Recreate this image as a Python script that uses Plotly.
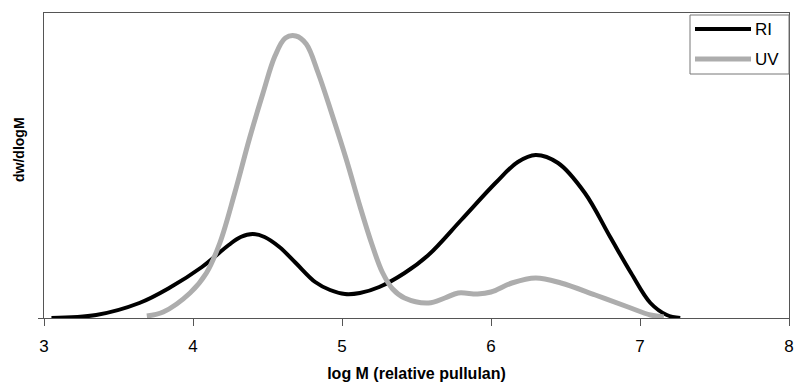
import plotly.graph_objects as go

# RI (black) curve: log M vs dw/dlogM (arbitrary units)
ri_x = [3.05, 3.35, 3.64, 3.84, 4.06, 4.24, 4.32, 4.40, 4.48, 4.58, 4.69, 4.82, 4.92, 5.02, 5.12, 5.25, 5.42, 5.58, 5.80, 6.03, 6.18, 6.30, 6.45, 6.63, 6.80, 6.94, 7.07, 7.18, 7.27]
ri_y = [0, 3, 15, 30, 51, 73, 81, 84, 81, 71, 55, 36, 28, 24, 25, 31, 45, 63, 98, 135, 156, 163, 155, 125, 81, 45, 15, 3, 0]

# UV (gray) curve
uv_x = [3.69, 3.80, 3.98, 4.09, 4.18, 4.28, 4.38, 4.47, 4.55, 4.62, 4.69, 4.76, 4.84, 4.93, 5.03, 5.12, 5.20, 5.27, 5.34, 5.42, 5.58, 5.69, 5.78, 5.91, 6.00, 6.14, 6.30, 6.47, 6.70, 6.92, 7.07, 7.16]
uv_y = [2, 6, 25, 45, 75, 125, 180, 225, 262, 280, 282, 274, 245, 205, 158, 112, 74, 46, 29, 20, 15, 20, 25, 24, 26, 35, 40, 35, 23, 11, 3, 1]

x_ticks = [3, 4, 5, 6, 7, 8]
series_names = ["RI", "UV"]
series_colors = ["black", "#adadad"]
series_widths = [4, 5]

W, H = 794, 387
ML, MR, MT, MB = 44, 5, 13, 69
PW, PH = W - ML - MR, H - MT - MB


def px_x(px):
    return (px - ML) / PW


def px_y(py):
    return 1 - (py - MT) / PH


fig = go.Figure()
for name, xs, ys, c, w in zip(series_names, [ri_x, uv_x], [ri_y, uv_y], series_colors, series_widths):
    fig.add_trace(go.Scatter(x=xs, y=ys, mode="lines", name=name, showlegend=False,
                             line=dict(color=c, width=w, shape="spline", smoothing=1.0)))

# custom legend box (matches reference's legend geometry)
shapes = [dict(type="rect", xref="paper", yref="paper",
               x0=px_x(690), x1=px_x(789), y0=px_y(74), y1=px_y(15),
               line=dict(color="#777", width=1), fillcolor="white", layer="above")]
annotations = []
for i, (name, c, w) in enumerate(zip(series_names, series_colors, series_widths)):
    yy = 29 + i * 30
    shapes.append(dict(type="line", xref="paper", yref="paper",
                       x0=px_x(695), x1=px_x(751), y0=px_y(yy), y1=px_y(yy),
                       line=dict(color=c, width=w), layer="above"))
    annotations.append(dict(xref="paper", yref="paper", x=px_x(753), y=px_y(yy),
                            xanchor="left", yanchor="middle", text=name, showarrow=False,
                            font=dict(size=17, color="black")))

# y-axis title placed as in the reference (slightly above centre)
annotations.append(dict(xref="paper", yref="paper", x=px_x(19), y=px_y(150),
                        xanchor="center", yanchor="middle", textangle=-90,
                        text="<b>dw/dlogM</b>", showarrow=False,
                        font=dict(size=14, color="black")))

fig.update_layout(
    width=W, height=H,
    margin=dict(l=ML, r=MR, t=MT, b=MB, autoexpand=False),
    paper_bgcolor="white", plot_bgcolor="white",
    font=dict(family="Liberation Sans, Arial", color="black", size=17),
    showlegend=False,
    shapes=shapes, annotations=annotations,
)
fig.update_xaxes(range=[3, 8], tickvals=x_ticks, ticktext=[str(t) for t in x_ticks],
                 showgrid=False, zeroline=False, showline=True, linecolor="#555", linewidth=1,
                 mirror=True, ticks="outside", ticklen=7, tickcolor="#555",
                 automargin=False, ticklabeloverflow="allow", ticklabelstandoff=6,
                 title=dict(text="<b>log M (relative pullulan)</b>", font=dict(size=16), standoff=12))
fig.update_yaxes(range=[0, 305], tickvals=[0], showticklabels=False, showgrid=False, zeroline=False,
                 showline=True, linecolor="#555", linewidth=1, mirror=True,
                 ticks="outside", ticklen=5, tickcolor="#555",
                 automargin=False)

fig.write_html("out.html", config={"displayModeBar": False},
               post_script="document.body.style.margin='0';")
